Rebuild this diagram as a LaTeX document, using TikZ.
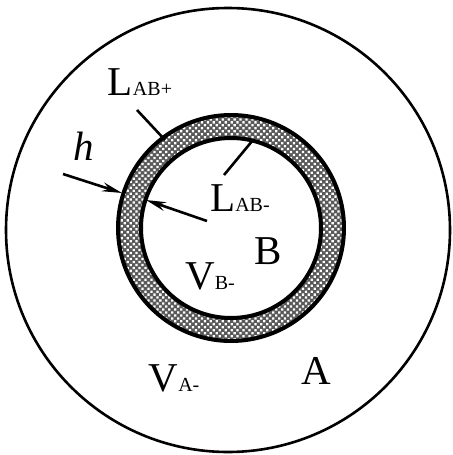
\documentclass[tikz,border=0pt]{standalone}
\usepackage{fontspec}
\setmainfont{Liberation Serif}
\usetikzlibrary{arrows.meta,patterns.meta}
\newcommand{\lowtag}[1]{{\fontsize{10}{10}\selectfont #1}}

\begin{document}
\begin{tikzpicture}[
  x=0.5pt, y=-0.5pt,
  lbl/.style={font=\fontsize{20.5}{20}\selectfont, inner sep=0pt},
  rim/.style={line width=2pt},
  leader/.style={line width=1.3pt},
  dim/.style={line width=1.3pt, -{Stealth[length=10pt,width=4.5pt]}}
]
\useasboundingbox (0,0) rectangle (452,455);

% region A
\draw[line width=1.3pt] (228,230) circle[radius=222];

% layer between A and B
\coordinate (ringc) at (231,228);
\fill[black!65, even odd rule] (ringc) circle[radius=113] (ringc) circle[radius=90];
\fill[pattern={Dots[radius=0.8pt,distance=2.1pt,angle=45]}, pattern color=white, even odd rule]
  (ringc) circle[radius=111] (ringc) circle[radius=92];
\draw[rim] (ringc) circle[radius=113];
\draw[rim] (ringc) circle[radius=90];

% labels
\node[lbl] (lplus) at (140,82) {L\lowtag{AB+}};
\node[lbl] (lminus) at (240,198) {L\lowtag{AB-}};
\node[lbl] (hlab) at (84,146) {\textit{h}};
\node[lbl] (blab) at (268,251) {B};
\node[lbl] (vb) at (210,276) {V\lowtag{B-}};
\node[lbl] (va) at (174,378) {V\lowtag{A-}};
\node[lbl] (alab) at (316,371) {A};

% leaders
\coordinate (lplus-s) at (137,110);
\coordinate (lplus-e) at (165,140);
\draw[leader] (lplus-s) -- (lplus-e);
\coordinate (lminus-s) at (224,175);
\coordinate (lminus-e) at (253,140);
\draw[leader] (lminus-s) -- (lminus-e);

% thickness h
\coordinate (hout-s) at (63,174);
\coordinate (hout-e) at (122,193);
\coordinate (hin-s) at (207,221);
\coordinate (hin-e) at (146,200);
\draw[dim] (hout-s) -- (hout-e);
\draw[dim] (hin-s) -- (hin-e);

\end{tikzpicture}
\end{document}
